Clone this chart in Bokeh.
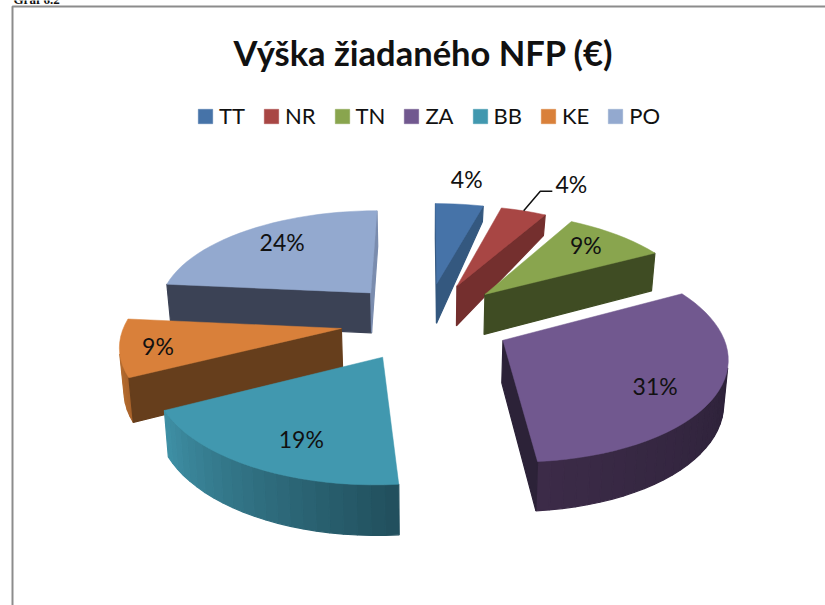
import math
from bokeh.plotting import figure
from bokeh.models import Range1d, Legend, LegendItem
from bokeh.core.properties import value
from bokeh.embed import file_html
from bokeh.resources import INLINE

# ---------- data ----------
categories = ["TT", "NR", "TN", "ZA", "BB", "KE", "PO"]
shares = [4.2, 4.0, 9.0, 31.4, 18.9, 9.0, 23.5]
share_labels = ["4%", "4%", "9%", "31%", "19%", "9%", "24%"]
chart_title = "Výška žiadaného NFP (€)"
caption = "Graf 6.2"

# ---------- colours ----------
top_colors = ["#4673A8", "#A84644", "#89A54E", "#71588F", "#4198AF", "#D9803A", "#93A9CF"]
radial_wall_colors = ["#34587F", "#742F2E", "#3F4C23", "#2C2238", "#2F7286", "#663E1C", "#3B4255"]
end_wall_colors = ["#34587F", "#742F2E", "#3F4C23", "#2C2238", "#2F7286", "#663E1C", "#7A8CAE"]
arc_start_colors = ["#34587F", "#742F2E", "#3F4C23", "#241C30", "#214F5C", "#A8622A", "#3B4255"]
arc_end_colors = ["#34587F", "#742F2E", "#3F4C23", "#3C2B48", "#3F90A6", "#C47835", "#3B4255"]

# ---------- projection of the exploded, tilted pie ----------
CX, CY = 425.5, 320.5
SCALE_X, SCALE_Y = 216.0, 100.0
PERSPECTIVE = 0.133
EXPLODE = 0.395
DEPTH = 41.5
BOTTOM_SHRINK = 0.985
outer_wall_scale = [0.45, 0.58, 1, 1, 1, 1, 1]
# label polar placement relative to each slice: radius, angle shift from mid-angle
label_radius = [1.37, 1.47, 0.79, 0.75, 0.74, 0.83, 0.76]
label_shift = [0.0, 4.9, -2.5, 4.5, -4.4, -0.7, 3.3]


def project(mid, theta, rho):
    mr, tr = math.radians(mid), math.radians(theta)
    X = EXPLODE * math.sin(mr) + rho * math.sin(tr)
    Y = EXPLODE * math.cos(mr) + rho * math.cos(tr)
    w = 1 + PERSPECTIVE * Y
    return CX + SCALE_X * X / w, CY - SCALE_Y * Y / w, w


def lower(pt, scale=1.0):
    x, y, w = pt
    return CX + (x - CX) * BOTTOM_SHRINK, y + scale * DEPTH / w


def area(poly):
    s = 0.0
    for (a, b), (c, d) in zip(poly, poly[1:] + poly[:1]):
        s += a * d - c * b
    return s / 2


def mix(c1, c2, t):
    a = [int(c1[i:i + 2], 16) for i in (1, 3, 5)]
    b = [int(c2[i:i + 2], 16) for i in (1, 3, 5)]
    return "#%02x%02x%02x" % tuple(round(u + (v - u) * t) for u, v in zip(a, b))


total = sum(shares)
starts, ends, cum = [], [], 0.0
for v in shares:
    starts.append(cum / total * 360)
    cum += v
    ends.append(cum / total * 360)
mids = [(s + e) / 2 for s, e in zip(starts, ends)]

p = figure(width=825, height=605, x_range=Range1d(0, 825), y_range=Range1d(605, 0),
           toolbar_location=None, output_backend="svg", min_border=0,
           background_fill_color="white",
           border_fill_color="white", outline_line_color=None)
p.axis.visible = False
p.grid.visible = False

# frame of the embedded chart
p.line([12, 12, 825], [605, 6, 6], line_color="#8C8C8C", line_width=2)

order = sorted(range(len(shares)), key=lambda i: project(mids[i], mids[i], 0)[1])
top_renderers = {}
for i in order:
    s, e, m = starts[i], ends[i], mids[i]
    n = max(4, int((e - s) / 3))
    thetas = [s + (e - s) * k / n for k in range(n + 1)]
    arc = [project(m, t, 1.0) for t in thetas]
    apex = project(m, m, 0.0)
    xs, ys, cs = [], [], []
    # outer wall, split for its shading
    for k in range(n):
        a, b = arc[k], arc[k + 1]
        poly = [a[:2], b[:2], lower(b), lower(a)]
        if area(poly) < 0:
            xs.append([q[0] for q in poly])
            ys.append([q[1] for q in poly])
            cs.append(mix(arc_start_colors[i], arc_end_colors[i], (k + 0.5) / n))
    # radial walls
    qs = [apex[:2], arc[0][:2], lower(arc[0]), lower(apex)]
    if area(qs) < 0:
        xs.append([q[0] for q in qs]); ys.append([q[1] for q in qs]); cs.append(radial_wall_colors[i])
    qe = [apex[:2], arc[-1][:2], lower(arc[-1], outer_wall_scale[i]), lower(apex)]
    if area(qe) > 0:
        xs.append([q[0] for q in qe]); ys.append([q[1] for q in qe]); cs.append(end_wall_colors[i])
    if xs:
        p.patches(xs, ys, fill_color=cs, line_color=cs, line_width=1.2)
    top_renderers[i] = p.patch([apex[0]] + [q[0] for q in arc], [apex[1]] + [q[1] for q in arc],
                               fill_color=top_colors[i], line_color=top_colors[i], line_width=0.5)

# data labels
lx, ly = [], []
for i in range(len(shares)):
    q = project(mids[i], mids[i] + label_shift[i], label_radius[i])
    lx.append(q[0]); ly.append(q[1])
p.text(lx, ly, text=share_labels, text_font=value("Lato"), text_font_size="23px",
       text_color="#111111", text_align="center", text_baseline="middle")

# leader line of the second label
a = project(mids[1], mids[1], 1.0)
p.line([a[0], lx[1] - 31, lx[1] - 19], [a[1], ly[1] + 7, ly[1] + 7], line_color="#111111", line_width=1.5)

# title and caption
p.text([423], [52], text=[chart_title], text_font=value("Lato"), text_font_size="34.5px",
       text_font_style="bold", text_color="#111111", text_align="center", text_baseline="middle")
p.text([13], [-1], text=[caption], text_font=value("Liberation Serif"), text_font_size="13px",
       text_font_style="bold", text_color="#111111", text_align="left", text_baseline="alphabetic")

legend = Legend(items=[LegendItem(label=categories[i], renderers=[top_renderers[i]]) for i in range(len(shares))],
                orientation="horizontal", location=(196, 605 - 129), margin=0, padding=0,
                spacing=17, glyph_width=18, glyph_height=18, label_standoff=5,
                label_text_font="Lato", label_text_font_size="22px", label_text_color="#111111",
                background_fill_alpha=0, border_line_color=None)
p.add_layout(legend, "center")

open("out.html", "w").write(file_html(p, INLINE))
